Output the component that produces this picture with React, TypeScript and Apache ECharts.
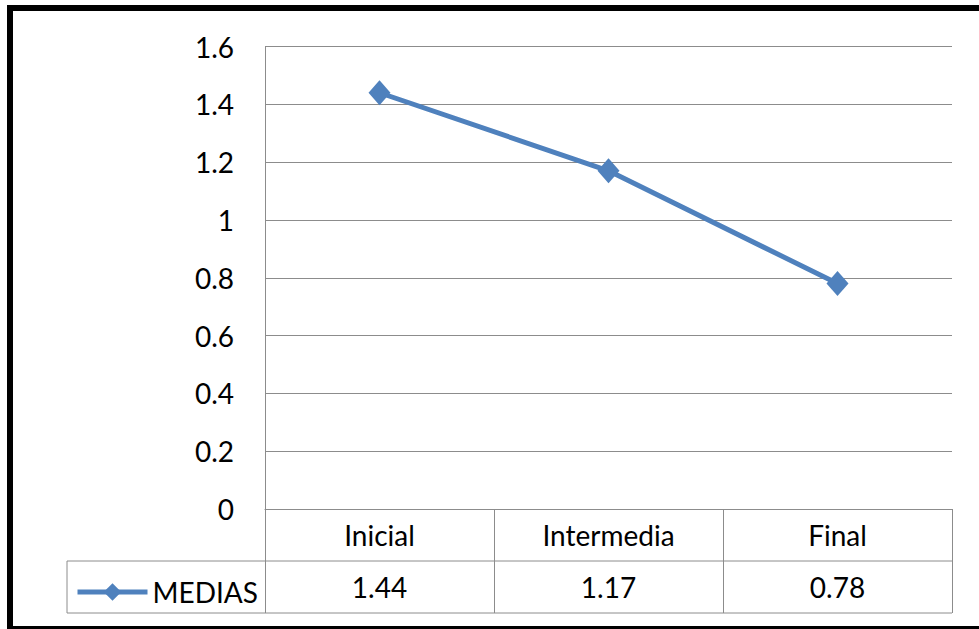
import React, { useEffect, useRef } from "react";
import * as echarts from "echarts";

const categories = ["Inicial", "Intermedia", "Final"];
const medias = [1.44, 1.17, 0.78];
const seriesName = "MEDIAS";
const yMin = 0;
const yMax = 1.6;
const yStep = 0.2;

const FONT = "Lato, 'Noto Sans', sans-serif";
const BLUE = "#4F81BD";
const GRID_GRAY = "#8c8c8c";

export default function App() {
  const ref = useRef<HTMLDivElement>(null);

  useEffect(() => {
    if (!ref.current) return;
    const chart = echarts.init(ref.current, undefined, { renderer: "svg" });

    const gridLeft = 265;
    const gridRight = 27;
    const gridTop = 46.5;
    const gridBottom = 120;
    const W = 979;
    const H = 629;
    const axisY = H - gridBottom; // y of the zero line
    const rowH = 52;
    const tableLeft = 67;
    const tableRight = W - gridRight;

    chart.setOption({
      animation: false,
      backgroundColor: "#ffffff",
      textStyle: { fontFamily: FONT },
      grid: { left: gridLeft, right: gridRight, top: gridTop, bottom: gridBottom },
      legend: {
        left: 70,
        top: axisY + rowH + 12,
        padding: 5,
        itemWidth: 70,
        itemHeight: 22,
        itemGap: 0,
        lineStyle: { width: 5, color: BLUE },
        textStyle: { fontSize: 28, color: "#000", fontFamily: FONT, padding: [0, 0, 0, 0] },
        data: [seriesName],
      },
      xAxis: [
        {
          type: "category",
          data: categories,
          boundaryGap: true,
          axisLine: { show: true, lineStyle: { color: GRID_GRAY, width: 1 } },
          axisTick: { show: true, interval: 0, length: rowH * 2, lineStyle: { color: GRID_GRAY, width: 1 } },
          axisLabel: { interval: 0, margin: 12, fontSize: 28, color: "#000", fontFamily: FONT },
          splitLine: { show: false },
        },
        {
          type: "category",
          data: medias.map((v) => v.toFixed(2)),
          position: "bottom",
          offset: rowH,
          boundaryGap: true,
          axisLine: { show: false },
          axisTick: { show: false },
          axisLabel: { interval: 0, margin: 12, fontSize: 28, color: "#000", fontFamily: FONT },
        },
      ],
      yAxis: {
        type: "value",
        min: yMin,
        max: yMax,
        interval: yStep,
        axisLine: { show: true, lineStyle: { color: GRID_GRAY, width: 1 } },
        axisTick: { show: false },
        axisLabel: { margin: 31, fontSize: 28, color: "#000", fontFamily: FONT },
        splitLine: { show: true, lineStyle: { color: GRID_GRAY, width: 1 } },
      },
      series: [
        {
          name: seriesName,
          type: "line",
          data: medias,
          symbol: "diamond",
          symbolSize: [22, 25],
          lineStyle: { color: BLUE, width: 5 },
          itemStyle: { color: BLUE },
        },
      ],
      graphic: [
        // data table rules around the legend cell
        {
          type: "line",
          shape: { x1: tableLeft, y1: axisY + rowH, x2: tableRight, y2: axisY + rowH },
          style: { stroke: GRID_GRAY, lineWidth: 1 },
        },
        {
          type: "line",
          shape: { x1: tableLeft, y1: axisY + rowH * 2, x2: tableRight, y2: axisY + rowH * 2 },
          style: { stroke: GRID_GRAY, lineWidth: 1 },
        },
        {
          type: "line",
          shape: { x1: tableLeft, y1: axisY + rowH, x2: tableLeft, y2: axisY + rowH * 2 },
          style: { stroke: GRID_GRAY, lineWidth: 1 },
        },
        // outer black frame
        {
          type: "rect",
          shape: { x: 10, y: 8, width: 1000, height: 621 },
          style: { fill: "none", stroke: "#000", lineWidth: 6 },
          z: 100,
        },
      ],
    });

    return () => chart.dispose();
  }, []);

  return (
    <div
      ref={ref}
      style={{ position: "fixed", left: 0, top: 0, width: 979, height: 629, background: "#fff" }}
    />
  );
}
